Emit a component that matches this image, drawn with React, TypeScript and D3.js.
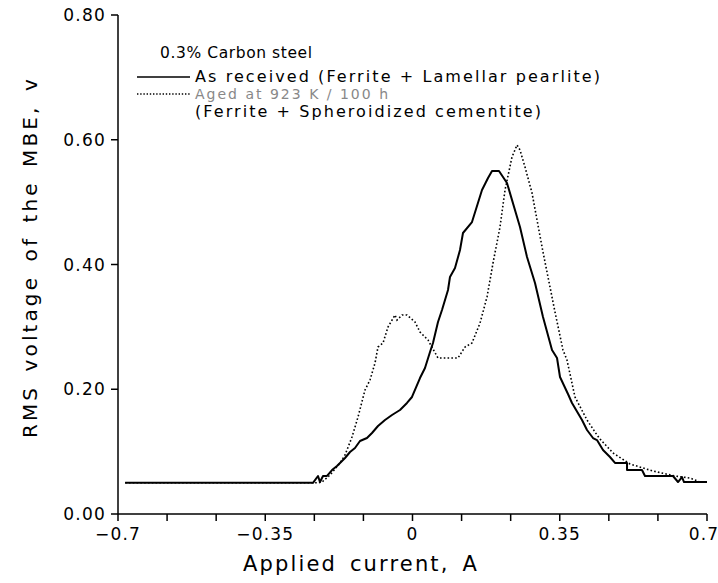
import React from "react";
import * as d3 from "d3";

const asReceivedX = [-0.683, -0.2365, -0.2246, -0.2199, -0.2127, -0.2032, -0.1913, -0.1795, -0.1723, -0.1604, -0.1485, -0.1367, -0.1248, -0.1082, -0.0963, -0.082, -0.0654, -0.0487, -0.0297, -0.0131, -0.0012, 0.0178, 0.0297, 0.0416, 0.0487, 0.0606, 0.0701, 0.0844, 0.0891, 0.101, 0.1129, 0.12, 0.1414, 0.1652, 0.1795, 0.189, 0.2056, 0.2246, 0.2555, 0.2722, 0.2912, 0.3102, 0.3316, 0.3435, 0.3506, 0.3696, 0.3791, 0.4029, 0.4148, 0.429, 0.4385, 0.4528, 0.4694, 0.4813, 0.5099, 0.5099, 0.5455, 0.5526, 0.6192, 0.6311, 0.6406, 0.6454, 0.7];
const asReceivedY = [0.05, 0.05, 0.0609, 0.0513, 0.061, 0.061, 0.0705, 0.077, 0.0818, 0.0898, 0.0994, 0.1058, 0.117, 0.1218, 0.1299, 0.1411, 0.1507, 0.1587, 0.1667, 0.178, 0.1876, 0.218, 0.2341, 0.2597, 0.2741, 0.3078, 0.327, 0.3591, 0.38, 0.3944, 0.4232, 0.4505, 0.4681, 0.5194, 0.5387, 0.5499, 0.5499, 0.5307, 0.4601, 0.412, 0.3703, 0.3158, 0.2629, 0.2501, 0.2196, 0.1924, 0.178, 0.1507, 0.1347, 0.1218, 0.1186, 0.1026, 0.0914, 0.0818, 0.0818, 0.0705, 0.0705, 0.0609, 0.0609, 0.0513, 0.0593, 0.0513, 0.0513];

const agedX = [-0.683, -0.2246, -0.2151, -0.1961, -0.1723, -0.1604, -0.1438, -0.1295, -0.1129, -0.101, -0.0891, -0.082, -0.0701, -0.0582, -0.0416, -0.0368, -0.0249, -0.0131, 0.0059, 0.0178, 0.0368, 0.0606, 0.1081, 0.1248, 0.1414, 0.1605, 0.1771, 0.1914, 0.208, 0.2199, 0.2365, 0.2484, 0.2555, 0.2674, 0.2841, 0.296, 0.3102, 0.3387, 0.3577, 0.3672, 0.3862, 0.4148, 0.4385, 0.4457, 0.4766, 0.517, 0.5716, 0.6239, 0.6596, 0.6834, 0.7];
const agedY = [0.05, 0.05, 0.0513, 0.0625, 0.0818, 0.0946, 0.1234, 0.1555, 0.1988, 0.2148, 0.2421, 0.2677, 0.2741, 0.2998, 0.319, 0.311, 0.319, 0.319, 0.3078, 0.2918, 0.279, 0.2501, 0.2501, 0.2677, 0.2741, 0.3062, 0.3479, 0.4024, 0.4601, 0.5194, 0.5723, 0.5916, 0.5836, 0.5563, 0.5146, 0.4713, 0.42, 0.3238, 0.2629, 0.2469, 0.1876, 0.1507, 0.1267, 0.1202, 0.0978, 0.0802, 0.0689, 0.0609, 0.0577, 0.0513, 0.0513];

const xTickValues = d3.range(13).map((i) => -0.7 + (i * 1.4) / 12);
const xLabelValues = [-0.7, -0.35, 0, 0.35, 0.7];
const xLabels = ["\u22120.7", "\u22120.35", "0", "0.35", "0.7"];
const yTickValues = [0, 0.2, 0.4, 0.6, 0.8];
const yLabels = ["0.00", "0.20", "0.40", "0.60", "0.80"];

const legendTitle = "0.3% Carbon steel";
const legend1 = "As received (Ferrite + Lamellar pearlite)";
const legend2a = "Aged at 923 K / 100 h";
const legend2b = "(Ferrite + Spheroidized cementite)";
const xTitle = "Applied current, A";
const yTitle = "RMS voltage of the MBE, v";

const W = 718;
const H = 583;
const FONT = "'DejaVu Sans', sans-serif";

export default function App() {
  const x = d3.scaleLinear().domain([-0.7, 0.7]).range([118, 707]);
  const y = d3.scaleLinear().domain([0, 0.8]).range([514, 15]);
  const line = d3
    .line<[number, number]>()
    .x((d) => x(d[0]))
    .y((d) => y(d[1]));
  const s1 = asReceivedX.map((v, i) => [v, asReceivedY[i]] as [number, number]);
  const s2 = agedX.map((v, i) => [v, agedY[i]] as [number, number]);
  const txt = { fontFamily: FONT, fontSize: 17, letterSpacing: 1.2, wordSpacing: 4, fill: "#000" } as any;
  const leg = { fontFamily: FONT, fontSize: 16, fill: "#000", lengthAdjust: "spacing" } as any;

  return (
    <svg width={W} height={H} style={{ position: "absolute", left: 0, top: 0, background: "#fff" }}>
      <rect x={0} y={0} width={W} height={H} fill="#fff" />
      {/* axes */}
      <line x1={x(-0.7)} x2={x(0.7)} y1={y(0)} y2={y(0)} stroke="#000" strokeWidth={1.5} />
      <line x1={x(-0.7)} x2={x(-0.7)} y1={y(0)} y2={y(0.8)} stroke="#000" strokeWidth={1.5} />
      {xTickValues.map((v, i) => (
        <line key={"xt" + i} x1={x(v)} x2={x(v)} y1={y(0)} y2={y(0) + 7} stroke="#000" strokeWidth={1.5} />
      ))}
      {xLabelValues.map((v, i) => (
        <text key={"xl" + i} x={i === xLabelValues.length - 1 ? x(v) - 3 : x(v)} y={y(0) + 26} textAnchor="middle" {...txt}>
          {xLabels[i]}
        </text>
      ))}
      {yTickValues.map((v, i) => (
        <g key={"yt" + i}>
          <line x1={x(-0.7) - 7} x2={x(-0.7)} y1={y(v)} y2={y(v)} stroke="#000" strokeWidth={1.5} />
          <text x={x(-0.7) - 12} y={y(v) + 6} textAnchor="end" {...txt}>
            {yLabels[i]}
          </text>
        </g>
      ))}
      <text x={243} y={571} {...txt} fontSize={21} textLength={235} lengthAdjust="spacing">
        {xTitle}
      </text>
      <text transform={`translate(37, 438) rotate(-90)`} {...txt} fontSize={20} textLength={360} lengthAdjust="spacing">
        {yTitle}
      </text>

      {/* data */}
      <path d={line(s1) || ""} fill="none" stroke="#000" strokeWidth={2} strokeLinejoin="round" />
      <path d={line(s2) || ""} fill="none" stroke="#000" strokeWidth={1.6} strokeDasharray="1.6,2.2" />

      {/* legend */}
      <text x={160} y={58} {...leg} fontSize={15.5} textLength={152}>{legendTitle}</text>
      <line x1={137} x2={190} y1={77} y2={77} stroke="#000" strokeWidth={1.6} />
      <text x={195} y={82} {...leg} textLength={405}>{legend1}</text>
      <line x1={137} x2={190} y1={94} y2={94} stroke="#000" strokeWidth={1.4} strokeDasharray="1.4,1.8" />
      <text x={195} y={99} {...leg} fontSize={14} fill="#888" textLength={193}>{legend2a}</text>
      <text x={195} y={117} {...leg} textLength={346}>{legend2b}</text>
    </svg>
  );
}
